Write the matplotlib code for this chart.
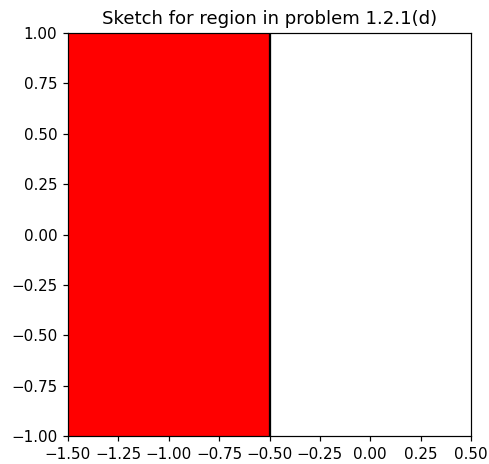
import numpy as np
import matplotlib.pyplot as plt

# region: x <= -0.5 inside the window
x_region = [-1.5, -0.5]
y_low = [-1.0, -1.0]
y_high = [1.0, 1.0]
boundary_x = -0.5

xlim = (-1.5, 0.5)
ylim = (-1.0, 1.0)

dpi = 109
fig = plt.figure(figsize=(489/dpi, 464/dpi), dpi=dpi)
ax = fig.add_axes([68/489, 1 - 436/464, (471 - 68)/489, (436 - 33)/464])

ax.fill_between(x_region, y_low, y_high, color='red')
ax.axvline(boundary_x, color='black', linewidth=1.5)

ax.set_xlim(*xlim)
ax.set_ylim(*ylim)
ax.set_xticks(np.arange(-1.5, 0.51, 0.25))
ax.set_yticks(np.arange(-1.0, 1.01, 0.25))
ax.set_title("Sketch for region in problem 1.2.1(d)")

fig.savefig("out.png", dpi=dpi)
